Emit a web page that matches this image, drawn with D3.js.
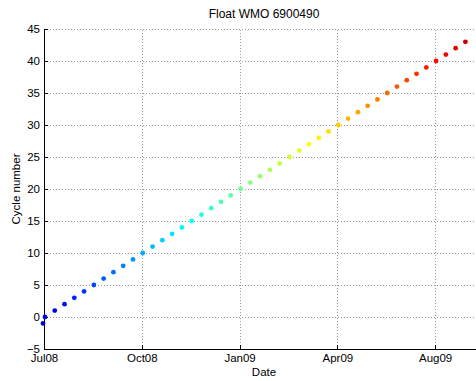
<!DOCTYPE html>
<html>
<head>
<meta charset="utf-8">
<script src="https://cdn.jsdelivr.net/npm/d3@7"></script>
<style>
  html, body { margin: 0; padding: 0; background: #fff; }
  svg { display: block; font-family: "Liberation Sans", Arial, Helvetica, sans-serif; }
  .grid line { stroke: #9a9a9a; stroke-dasharray: 1,2; shape-rendering: crispEdges; }
  .grid path { display: none; }
  .axis path, .axis line { stroke: #000; shape-rendering: crispEdges; }
  .axis text { font-size: 11.5px; fill: #000; }
</style>
</head>
<body>
<svg id="chart" width="476" height="381"></svg>
<script>
// Profile cycles of the float and the date each one was reported
const cycles = [-1, 0, 1, 2, 3, 4, 5, 6, 7, 8, 9, 10, 11, 12, 13, 14, 15, 16, 17, 18, 19, 20, 21,
  22, 23, 24, 25, 26, 27, 28, 29, 30, 31, 32, 33, 34, 35, 36, 37, 38, 39, 40, 41, 42, 43];
const cycleDates = [
  "2008-06-30", "2008-07-02", "2008-07-12", "2008-07-22", "2008-08-01", "2008-08-11",
  "2008-08-21", "2008-08-31", "2008-09-10", "2008-09-20", "2008-09-30", "2008-10-10",
  "2008-10-20", "2008-10-30", "2008-11-09", "2008-11-19", "2008-11-29", "2008-12-09",
  "2008-12-19", "2008-12-29", "2009-01-08", "2009-01-18", "2009-01-28", "2009-02-07",
  "2009-02-17", "2009-02-27", "2009-03-09", "2009-03-19", "2009-03-29", "2009-04-08",
  "2009-04-18", "2009-04-28", "2009-05-08", "2009-05-18", "2009-05-28", "2009-06-07",
  "2009-06-17", "2009-06-27", "2009-07-07", "2009-07-17", "2009-07-27", "2009-08-06",
  "2009-08-16", "2009-08-26", "2009-09-05"
];

// Axis settings
const xDomain = ["2008-07-01", "2009-09-24"];
const xTickDates = ["2008-07-01", "2008-10-09", "2009-01-17", "2009-04-27", "2009-08-05"];
const yDomain = [-5, 45];
const yTicks = [-5, 0, 5, 10, 15, 20, 25, 30, 35, 40, 45];
const titleText = "Float WMO 6900490";
const xLabel = "Date";
const yLabel = "Cycle number";

const parse = d3.utcParse("%Y-%m-%d");
const points = cycles.map((c, i) => ({ cycle: c, date: parse(cycleDates[i]) }));

const svg = d3.select("#chart");
const plot = { left: 44, right: 484, top: 29, bottom: 349 };

const x = d3.scaleUtc().domain(xDomain.map(parse)).range([plot.left, plot.right]);
const y = d3.scaleLinear().domain(yDomain).range([plot.bottom, plot.top]);

// Jet colour ramp, indexed by cycle number
function jet(t) {
  const clamp = v => Math.max(0, Math.min(1, v));
  const r = clamp(1.5 - Math.abs(4 * t - 3));
  const g = clamp(1.5 - Math.abs(4 * t - 2));
  const b = clamp(1.5 - Math.abs(4 * t - 1));
  return d3.rgb(r * 255, g * 255, b * 255).formatHex();
}
const colorT = d3.scaleLinear().domain(d3.extent(cycles)).range([0.08, 0.925]);

// Dotted grid
svg.append("g")
  .attr("class", "grid")
  .attr("transform", `translate(0,${plot.bottom})`)
  .call(d3.axisBottom(x).tickValues(xTickDates.map(parse))
    .tickSize(-(plot.bottom - plot.top)).tickFormat(""));
svg.append("g")
  .attr("class", "grid")
  .attr("transform", `translate(${plot.left},0)`)
  .call(d3.axisLeft(y).tickValues(yTicks)
    .tickSize(-(plot.right - plot.left)).tickFormat(""));

// Axes with inward ticks
svg.append("g")
  .attr("class", "axis")
  .attr("transform", `translate(0,${plot.bottom})`)
  .call(d3.axisBottom(x).tickValues(xTickDates.map(parse))
    .tickFormat(d3.utcFormat("%b%y"))
    .tickSizeInner(-4).tickSizeOuter(0).tickPadding(5));
svg.append("g")
  .attr("class", "axis")
  .attr("transform", `translate(${plot.left},0)`)
  .call(d3.axisLeft(y).tickValues(yTicks)
    .tickFormat(d3.format("d"))
    .tickSizeInner(-4).tickSizeOuter(0).tickPadding(4));

// Cycle markers
svg.append("g")
  .selectAll("circle")
  .data(points)
  .join("circle")
  .attr("cx", d => x(d.date))
  .attr("cy", d => y(d.cycle))
  .attr("r", 2.4)
  .attr("fill", d => jet(colorT(d.cycle)));

// Title and axis labels
svg.append("text")
  .attr("x", (plot.left + plot.right) / 2)
  .attr("y", 18)
  .attr("text-anchor", "middle")
  .attr("font-size", 12)
  .text(titleText);
svg.append("text")
  .attr("x", (plot.left + plot.right) / 2)
  .attr("y", 376)
  .attr("text-anchor", "middle")
  .attr("font-size", 11.5)
  .text(xLabel);
svg.append("text")
  .attr("transform", `translate(20,${(plot.top + plot.bottom) / 2}) rotate(-90)`)
  .attr("text-anchor", "middle")
  .attr("font-size", 11.5)
  .text(yLabel);
</script>
</body>
</html>
